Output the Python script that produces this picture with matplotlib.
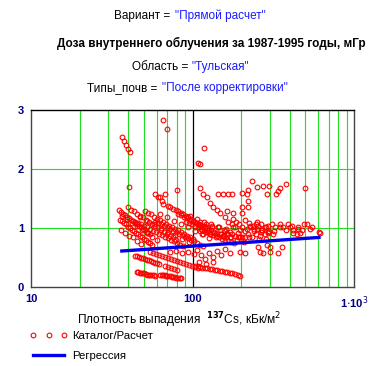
import numpy as np
import matplotlib
matplotlib.use("Agg")
import matplotlib.pyplot as plt

plt.rcParams['font.family'] = ['Liberation Sans', 'DejaVu Sans']

# Catalog/calculation points: 137Cs deposition density (kBq/m2) vs internal dose (mGy)
density = [
    # upper outliers
    36.6, 37.7, 38.8, 39.9, 41.0, 65.6, 69.5, 40.5, 80.0, 118, 111, 108, 111, 498, 607,
    58.6, 61.1, 62.9, 64.7, 65.6, 67.6,
    144, 155, 166, 176, 203, 234, 251, 273, 298, 289, 329, 338, 348, 379,
    221, 217, 221, 221, 203, 203, 164, 178,
    # stripe falling from ~1.6
    116, 123, 128, 134, 142, 148, 159, 166, 176, 183, 191,
    # left stripes
    35.1, 37.2, 39.3, 41.6, 44.0, 46.6, 49.3, 52.2, 54.6,
    36.1, 38.2, 40.4, 42.8, 45.3, 47.9, 50.8, 53.4,
    35.6, 37.7, 39.9, 42.2, 44.7, 47.3, 50.1, 53.0, 56.1,
    36.6, 38.8, 41.0, 43.4, 46.0, 48.6, 51.5, 54.6,
    36.1, 38.2, 40.4, 42.8, 45.3, 47.9,
    39.9, 43.4, 47.3, 51.5, 56.1, 61.1, 66.6, 72.6, 79.0,
    41.6, 45.3, 49.3, 53.8, 58.6, 63.8, 69.5, 75.7,
    44.0, 47.9, 52.2, 56.9, 62.0, 67.6, 73.6, 80.2, 87.4,
    46.0, 50.1, 54.6, 59.5, 64.7, 70.5, 76.7, 83.7,
    50.8, 55.4, 60.3, 65.6, 71.5, 77.9, 84.9, 92.5, 100.7,
    53.0, 57.8, 62.9, 68.6, 74.6, 81.3, 88.6, 96.5,
    58.6, 63.8, 69.5, 75.7, 82.4, 89.9, 97.9, 106.6, 116,
    61.1, 66.6, 72.6, 79.0, 86.1, 93.8, 102.1, 111,
    70.5, 75.7, 81.3, 87.4, 93.8, 100.7, 108.2, 116, 124.7,
    73.0, 78.5, 84.3, 90.7, 97.2, 104.3, 112, 120,
    81.3, 88.6, 96.5, 105.1, 114.6, 124.7, 135.8, 148, 161,
    84.9, 92.5, 100.7, 109.7, 119, 130.3, 142, 154.6,
    91.2, 99.3, 108.2, 117.8, 128, 139.9, 152.4, 166, 180.8,
    95.1, 103.6, 113, 123, 134, 146, 159, 173.5,
    103.6, 114.6, 126.5, 139.9, 154.6, 171, 188.8, 208.5,
    111, 121, 132, 144, 157, 171,
    36.6, 39.3, 42.2, 45.3, 48.6, 52.2, 56.1, 60.3,
    47.3, 52.2, 57.8, 63.8, 70.5, 77.9, 86.1, 95.1,
    62.9, 69.5, 76.7, 84.9, 93.8, 103.6, 114.6, 126.5,
    96.5, 106.6, 117.8, 130.3, 144, 159, 176, 194,
    111, 123, 135.8, 150, 166, 183, 203, 224,
    119, 132, 146, 161, 178, 197, 217, 240, 266, 293,
    116, 128, 142, 157, 173.5, 191, 211, 234, 258, 285,
    # feathers right of 100
    178, 186, 194, 203, 211, 221,
    211, 224, 237, 251, 266, 281,
    251, 266, 281, 298, 315,
    227, 240, 255, 269, 285, 293, 247, 262,
    # right band
    310, 324, 348, 363, 390, 402, 419, 450, 476, 463, 512, 549, 616, 419, 444,
    227, 247, 269, 293, 320, 348, 379, 413, 450, 490, 535,
    # below the regression line
    197, 211, 254, 262, 273, 302, 302, 338, 358, 289, 197, 164,
    106.6, 113, 119, 126.5, 134, 142, 150, 159, 171, 109.7, 121, 134,
    72.6, 79.0, 86.1, 93.8, 102.1,
    54.6, 59.5, 64.7, 70.5, 76.7, 83.7, 91.2, 99.3, 108.2,
    56.9, 62.0, 67.6, 73.6, 80.2, 87.4, 95.1, 103.6,
    44.0, 46.6, 49.3, 52.2, 55.4, 58.6, 62.0,
    45.3, 47.9, 50.8, 53.8, 56.9, 60.3,
    45.3, 47.3, 49.3, 51.5, 53.8, 56.1, 58.6,
    46.3, 48.3, 50.4, 52.6, 54.9, 57.4,
    62.9, 65.6, 68.6, 71.5, 74.6, 77.9, 81.3, 84.9,
    64.3, 67.1, 70.0, 73.1, 76.2, 79.6, 83.1,
    67.6, 70.5, 73.6, 76.7, 80.2,
    103.6, 111, 119, 128, 138, 148, 159, 171, 183, 197,
    107.4, 115.2, 123.6, 132.9, 142.6, 153.1, 164.4, 176.5, 190,
]
dose = [
    2.54, 2.47, 2.40, 2.34, 2.28, 2.83, 2.68, 1.70, 1.65, 2.35, 2.08, 2.10, 1.67, 1.67, 0.94,
    1.57, 1.53, 1.52, 1.45, 1.41, 1.57,
    1.58, 1.58, 1.58, 1.58, 1.60, 1.79, 1.69, 1.72, 1.72, 1.58, 1.57, 1.62, 1.67, 1.74,
    1.65, 1.57, 1.45, 1.35, 1.36, 1.26, 1.28, 1.26,
    1.57, 1.52, 1.43, 1.36, 1.31, 1.26, 1.18, 1.11, 1.06, 1.01, 0.92,
    1.30, 1.24, 1.19, 1.14, 1.09, 1.04, 0.99, 0.94, 0.89,
    1.27, 1.22, 1.17, 1.12, 1.07, 1.01, 0.96, 0.91,
    1.14, 1.09, 1.02, 0.97, 0.92, 0.87, 0.82, 0.77, 0.72,
    1.12, 1.06, 1.00, 0.95, 0.89, 0.84, 0.79, 0.74,
    0.97, 0.92, 0.87, 0.84, 0.78, 0.73,
    1.35, 1.28, 1.21, 1.14, 1.07, 1.01, 0.94, 0.87, 0.80,
    1.31, 1.24, 1.18, 1.11, 1.04, 0.97, 0.90, 0.84,
    1.11, 1.06, 1.01, 0.95, 0.90, 0.85, 0.80, 0.75, 0.70,
    1.08, 1.03, 0.98, 0.93, 0.88, 0.83, 0.78, 0.72,
    1.28, 1.23, 1.16, 1.11, 1.04, 0.99, 0.94, 0.87, 0.82,
    1.25, 1.19, 1.13, 1.07, 1.01, 0.96, 0.90, 0.84,
    1.11, 1.06, 1.01, 0.95, 0.90, 0.85, 0.80, 0.75, 0.70,
    1.08, 1.03, 0.98, 0.93, 0.88, 0.83, 0.78, 0.72,
    1.38, 1.33, 1.28, 1.23, 1.18, 1.12, 1.07, 1.02, 0.97,
    1.36, 1.30, 1.25, 1.20, 1.15, 1.10, 1.05, 1.00,
    1.24, 1.19, 1.14, 1.09, 1.04, 0.99, 0.94, 0.89, 0.84,
    1.22, 1.17, 1.12, 1.07, 1.01, 0.96, 0.91, 0.86,
    1.11, 1.06, 1.01, 0.95, 0.90, 0.85, 0.82, 0.78, 0.75,
    1.08, 1.03, 0.98, 0.93, 0.88, 0.84, 0.80, 0.77,
    1.01, 0.97, 0.94, 0.90, 0.87, 0.84, 0.80, 0.77,
    1.11, 1.07, 1.04, 1.01, 0.97, 0.94,
    1.21, 1.15, 1.09, 1.03, 0.97, 0.91, 0.85, 0.79,
    1.18, 1.12, 1.06, 1.00, 0.94, 0.88, 0.82, 0.76,
    1.24, 1.18, 1.12, 1.07, 1.01, 0.95, 0.89, 0.83,
    1.21, 1.16, 1.11, 1.06, 1.01, 0.95, 0.90, 0.85,
    0.95, 0.94, 0.92, 0.90, 0.89, 0.87, 0.85, 0.84,
    1.04, 1.01, 1.02, 0.99, 1.01, 0.97, 0.99, 0.95, 0.97, 0.94,
    0.90, 0.89, 0.87, 0.87, 0.85, 0.85, 0.84, 0.84, 0.82, 0.82,
    1.16, 1.11, 1.06, 1.01, 0.95, 0.90,
    1.14, 1.09, 1.04, 0.99, 0.94, 0.89,
    1.11, 1.06, 1.01, 0.95, 0.90,
    1.04, 0.99, 1.04, 0.97, 1.02, 0.92, 0.90, 0.87,
    1.06, 1.02, 1.06, 1.02, 1.07, 1.01, 0.97, 1.01, 0.97, 0.92, 1.07, 1.02, 0.92, 0.92, 0.89,
    1.01, 1.06, 0.97, 1.04, 0.95, 1.02, 0.97, 1.04, 0.99, 1.06, 0.99,
    0.60, 0.58, 0.68, 0.60, 0.58, 0.60, 0.68, 0.58, 0.68, 0.72, 0.84, 0.89,
    0.63, 0.55, 0.48, 0.58, 0.51, 0.61, 0.55, 0.65, 0.58, 0.43, 0.39, 0.43,
    0.60, 0.61, 0.58, 0.60, 0.56,
    0.60, 0.56, 0.53, 0.49, 0.46, 0.43, 0.39, 0.36, 0.32,
    0.58, 0.55, 0.51, 0.48, 0.44, 0.41, 0.37, 0.34,
    0.53, 0.51, 0.49, 0.46, 0.44, 0.41, 0.39,
    0.52, 0.50, 0.48, 0.45, 0.43, 0.40,
    0.26, 0.24, 0.24, 0.22, 0.20, 0.20, 0.19,
    0.25, 0.24, 0.23, 0.21, 0.20, 0.20,
    0.20, 0.20, 0.19, 0.19, 0.17, 0.17, 0.15, 0.15,
    0.20, 0.20, 0.19, 0.18, 0.17, 0.16, 0.15,
    0.36, 0.34, 0.32, 0.31, 0.29,
    0.36, 0.34, 0.32, 0.31, 0.29, 0.27, 0.26, 0.24, 0.22, 0.19,
    0.35, 0.33, 0.32, 0.30, 0.28, 0.27, 0.25, 0.23, 0.21,
]

# regression line ends
reg_density = [36.5, 607]
reg_dose = [0.61, 0.84]

x_ticks = [10, 100, 1000]
x_ticklabels = ['10', '100', r'1$\cdot$10$^3$']
y_ticks = [0, 1, 2, 3]

W, H = 391, 366
fig = plt.figure(figsize=(W / 100, H / 100), dpi=100)
ax = fig.add_axes([31 / W, 1 - 287 / H, (354 - 31) / W, (287 - 110) / H])

ax.set_xscale('log')
ax.set_xlim(10, 1000)
ax.set_ylim(0, 3)

# grid: green minor lines, black at 100
grid_green = '#22dd22'
for dec in (10, 100):
    for m in range(2, 10):
        ax.axvline(dec * m, color=grid_green, lw=0.8, zorder=0)
ax.axvline(100, color='black', lw=0.9, zorder=0)
for yv in (1, 2):
    ax.axhline(yv, color=grid_green, lw=0.8, zorder=0)

ax.plot(density, dose, 'o', ls='none', mfc='none', mec='red', ms=3.4, mew=0.8,
        label='Каталог/Расчет', zorder=2)
ax.plot(reg_density, reg_dose, color='#0000ee', lw=2.4, label='Регрессия', zorder=3)

ax.set_xticks(x_ticks)
ax.set_xticklabels(x_ticklabels)
ax.set_xticks([], minor=True)
ax.set_yticks(y_ticks)
ax.tick_params(length=0, colors='#000080', labelsize=8)
for lab in ax.get_xticklabels() + ax.get_yticklabels():
    lab.set_fontweight('bold')
ax.tick_params(axis='x', pad=5)
ax.tick_params(axis='y', pad=5)
for sp in ax.spines.values():
    sp.set_color('#444444')
    sp.set_linewidth(1.0)
ax.spines['top'].set_color('black')

# headings (black part + blue quoted value)
fs = 8.5
def head(y, left, right, split_l, split_r):
    fig.text(split_l / W, 1 - y / H, left, ha='right', va='center', fontsize=fs, color='black')
    fig.text(split_r / W, 1 - y / H, right, ha='left', va='center', fontsize=fs, color='#1a1aff')

head(16, 'Вариант =', '"Прямой расчет"', 170, 175)
fig.text(211 / W, 1 - 43 / H, 'Доза внутреннего облучения за 1987-1995 годы, мГр',
         ha='center', va='center', fontsize=fs, fontweight='bold', color='black')
head(67, 'Область =', '"Тульская"', 188, 192)
head(88, 'Типы_почв =', '"После корректировки"', 157, 162)

fig.text(179 / W, 1 - 320 / H, r'Плотность выпадения  $^{\mathbf{137}}$Cs, кБк/м$^2$',
         ha='center', va='center', fontsize=8.6, color='black')

fig.legend(loc='upper left', bbox_to_anchor=(30 / W, 1 - 331 / H), frameon=False,
           numpoints=3, handlelength=3.3, handletextpad=0.4, labelspacing=0.85,
           fontsize=8.2, borderpad=0, borderaxespad=0)

fig.savefig('out.png', dpi=100)
